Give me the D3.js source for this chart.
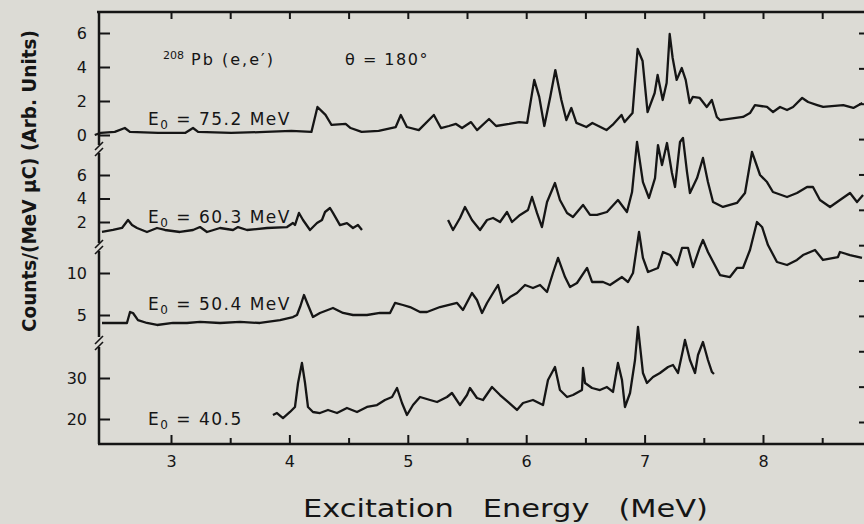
<!DOCTYPE html>
<html>
<head>
  <meta charset="UTF-8" />
  <title>208Pb (e,e') spectra</title>
  <script src="https://d3js.org/d3.v7.min.js"></script>
  <style>
    body { margin: 0; background: #dcdbd5; }
    svg { display: block; }
    text, tspan { font-family: "DejaVu Sans", "Liberation Sans", sans-serif; fill: #151515; }
  </style>
</head>
<body>
  <div id="chart"></div>

  <script>
    // spectra: [excitation energy (MeV), counts]
    const spec752 = [
      [2.356,0],[2.407,0.12],[2.525,0.18],[2.61,0.41],[2.653,0.18],[2.89,0.12],[3.119,0.12],[3.186,0.41],
      [3.229,0.18],[3.508,0.12],[3.797,0.18],[4.017,0.24],[4.186,0.18],[4.237,1.65],[4.305,1.18],[4.356,0.59],
      [4.475,0.65],[4.517,0.41],[4.61,0.18],[4.754,0.24],[4.898,0.47],[4.941,1.18],[4.992,0.47],[5.093,0.29],
      [5.22,1.18],[5.28,0.41],[5.347,0.53],[5.407,0.65],[5.458,0.41],[5.534,0.76],[5.585,0.29],[5.686,0.94],
      [5.746,0.53],[5.856,0.65],[5.941,0.76],[6.008,0.71],[6.068,3.24],[6.11,2.24],[6.153,0.53],[6.203,2.24],
      [6.246,3.82],[6.297,2.06],[6.339,0.88],[6.381,1.59],[6.424,0.71],[6.508,0.47],[6.559,0.71],[6.678,0.29],
      [6.729,0.59],[6.805,1.18],[6.831,0.76],[6.898,1.29],[6.941,5.06],[6.983,4.35],[7.025,1.35],[7.085,2.47],
      [7.11,3.53],[7.153,2.06],[7.186,3.06],[7.212,5.94],[7.237,4.53],[7.271,3.24],[7.314,3.94],[7.347,3.24],
      [7.381,1.88],[7.407,2.24],[7.466,2.18],[7.525,1.65],[7.568,2.06],[7.61,1.06],[7.636,0.88],[7.831,1.06],
      [7.89,1.29],[7.932,1.76],[8.034,1.65],[8.085,1.35],[8.144,1.65],[8.203,1.47],[8.254,1.65],[8.331,2.18],
      [8.381,1.94],[8.458,1.76],[8.508,1.65],[8.678,1.76],[8.763,1.59],[8.839,1.88]
    ];

    const spec603a = [
      [2.417,1.15],[2.51,1.32],[2.586,1.49],[2.637,2.17],[2.671,1.74],[2.713,1.49],[2.797,1.15],[2.882,1.49],
      [2.949,1.32],[3.076,1.15],[3.186,1.32],[3.245,1.57],[3.304,1.15],[3.414,1.49],[3.524,1.32],[3.566,1.57],
      [3.642,1.32],[3.811,1.49],[3.98,1.57],[4.03,1.91],[4.047,1.74],[4.081,2.77],[4.115,2.17],[4.174,1.32],
      [4.233,1.91],[4.275,2.17],[4.301,2.85],[4.343,3.19],[4.368,2.77],[4.427,1.74],[4.486,1.91],[4.537,1.49],
      [4.579,1.74],[4.613,1.32]
    ];
    const spec603b = [
      [5.34,2.17],[5.382,1.32],[5.441,2.34],[5.483,3.28],[5.542,2.17],[5.61,1.32],[5.669,2.17],[5.72,2.34],
      [5.779,2.0],[5.838,2.85],[5.88,2.0],[5.948,2.6],[6.015,3.02],[6.049,4.13],[6.091,2.77],[6.133,1.57],
      [6.176,3.7],[6.243,5.32],[6.285,3.87],[6.345,2.77],[6.395,2.43],[6.48,3.45],[6.539,2.6],[6.598,2.6],
      [6.682,2.85],[6.775,3.87],[6.851,2.85],[6.894,4.55],[6.936,8.81],[6.986,5.4],[7.037,4.04],[7.088,5.74],
      [7.113,8.55],[7.147,6.85],[7.189,8.72],[7.231,6.17],[7.257,4.98],[7.299,8.81],[7.324,9.15],[7.358,6.26],
      [7.383,4.47],[7.443,5.74],[7.493,7.45],[7.535,5.4],[7.578,3.7],[7.662,3.28],[7.78,3.62],[7.848,4.47],
      [7.907,7.96],[7.975,6.0],[8.034,5.4],[8.084,4.55],[8.203,4.13],[8.287,4.47],[8.372,4.98],[8.422,4.98],
      [8.481,3.87],[8.566,3.28],[8.65,3.87],[8.735,4.47],[8.794,3.7],[8.845,4.3]
    ];

    const spec504 = [
      [2.417,4.05],[2.51,4.05],[2.628,4.05],[2.654,5.36],[2.679,5.24],[2.721,4.4],[2.797,4.05],[2.882,3.81],
      [3.017,4.05],[3.135,4.05],[3.245,4.17],[3.414,4.05],[3.583,4.17],[3.752,4.05],[3.921,4.4],[4.03,4.76],
      [4.064,5.0],[4.09,5.95],[4.123,7.38],[4.157,6.19],[4.199,4.76],[4.258,5.24],[4.368,5.83],[4.453,5.24],
      [4.537,5.0],[4.655,5.0],[4.765,5.24],[4.85,5.24],[4.892,6.43],[4.959,6.19],[5.019,5.95],[5.103,5.36],
      [5.162,5.36],[5.272,5.95],[5.416,6.43],[5.466,5.6],[5.542,7.62],[5.584,6.79],[5.627,5.24],[5.669,6.43],
      [5.72,7.62],[5.762,8.57],[5.804,6.43],[5.863,7.14],[5.922,7.62],[5.99,8.57],[6.057,8.21],[6.117,8.57],
      [6.176,7.74],[6.226,10.0],[6.269,11.79],[6.328,9.52],[6.37,8.33],[6.429,8.81],[6.514,10.6],[6.556,8.93],
      [6.649,8.93],[6.708,8.57],[6.809,9.52],[6.86,8.93],[6.902,10.0],[6.953,14.88],[6.986,11.79],[7.029,10.12],
      [7.113,10.6],[7.155,12.5],[7.215,12.14],[7.274,10.95],[7.316,12.98],[7.367,12.98],[7.409,10.71],[7.468,13.1],
      [7.493,13.93],[7.535,12.5],[7.637,9.76],[7.721,9.52],[7.78,10.6],[7.831,10.6],[7.89,12.74],[7.949,16.07],
      [7.992,15.48],[8.042,13.33],[8.118,11.31],[8.203,10.95],[8.287,11.55],[8.338,12.14],[8.439,12.74],[8.507,11.55],
      [8.633,11.9],[8.65,12.5],[8.735,12.14],[8.836,11.79]
    ];

    const spec405 = [
      [3.861,20.98],[3.895,21.46],[3.946,20.24],[4.005,21.71],[4.047,22.93],[4.073,28.78],[4.106,33.66],[4.132,28.78],
      [4.157,22.93],[4.199,21.71],[4.258,21.46],[4.326,22.2],[4.402,21.46],[4.486,22.68],[4.571,21.71],[4.655,22.93],
      [4.74,23.41],[4.807,24.63],[4.867,25.37],[4.909,27.56],[4.951,23.9],[4.993,20.98],[5.044,23.41],[5.103,25.37],
      [5.188,24.63],[5.247,24.15],[5.331,25.37],[5.373,26.34],[5.441,23.41],[5.5,25.85],[5.525,27.56],[5.584,25.12],
      [5.635,24.63],[5.711,27.8],[5.779,25.85],[5.846,24.15],[5.922,22.2],[5.973,23.9],[6.057,24.63],[6.142,23.41],
      [6.184,29.51],[6.243,32.68],[6.285,27.07],[6.345,25.37],[6.395,25.85],[6.471,27.07],[6.48,32.44],[6.497,28.78],
      [6.556,27.56],[6.623,27.07],[6.682,27.8],[6.733,26.59],[6.775,33.66],[6.809,29.51],[6.834,22.93],[6.877,26.34],
      [6.919,34.39],[6.944,42.44],[6.986,31.22],[7.02,28.78],[7.071,30.24],[7.13,31.22],[7.198,32.68],[7.24,33.17],
      [7.282,31.22],[7.324,36.83],[7.341,39.27],[7.383,34.39],[7.426,31.22],[7.451,35.61],[7.493,38.78],[7.535,34.39],
      [7.569,31.46],[7.586,30.98]
    ];

    const panelLabels = ["75.2 MeV", "60.3 MeV", "50.4 MeV", "40.5"];
    const panelTicks = [[0, 2, 4, 6], [2, 4, 6], [5, 10], [20, 30]];
    const panelDomains = [[0, 6], [2, 6], [5, 10], [20, 30]];
    const xMajor = [3, 4, 5, 6, 7, 8];
    const xMinor = [3.5, 4.5, 5.5, 6.5, 7.5, 8.5];

    const width = 864, height = 524;
    const axisLeftX = 99, axisTopY = 12, axisBottomY = 444, axisRightX = 866;
    const ink = "#151515";

    const svg = d3.select("#chart")
      .append("svg")
      .attr("width", width)
      .attr("height", height);

    var x = d3.scaleLinear().domain([3, 8]).range([171, 763]);

    // pixel layout of the four stacked panels: tick range, axis segment, label baseline
    const panels = [
      { range: [135, 33], seg: [axisTopY, 145], labelY: 125 },
      { range: [222, 175], seg: [153, 243], labelY: 223 },
      { range: [315, 273], seg: [251, 337], labelY: 310 },
      { range: [419, 378], seg: [347, axisBottomY], labelY: 425 }
    ];
    const series = [[spec752], [spec603a, spec603b], [spec504], [spec405]];

    // frame: top and bottom axis lines
    svg.append("line").attr("x1", axisLeftX - 2).attr("x2", width).attr("y1", axisTopY).attr("y2", axisTopY)
      .attr("stroke", ink).attr("stroke-width", 2.5);
    svg.append("line").attr("x1", axisLeftX - 1).attr("x2", width).attr("y1", axisBottomY).attr("y2", axisBottomY)
      .attr("stroke", ink).attr("stroke-width", 2.5);

    // bottom axis
    svg.append("g").attr("transform", "translate(0," + axisBottomY + ")")
      .call(d3.axisBottom(x).tickValues(xMajor).tickSize(-9).tickPadding(12).tickFormat(d3.format("d")));
    svg.append("g").attr("transform", "translate(0," + axisBottomY + ")")
      .call(d3.axisBottom(x).tickValues(xMinor).tickSize(-6).tickFormat(""));
    // top axis
    svg.append("g").attr("transform", "translate(0," + axisTopY + ")")
      .call(d3.axisTop(x).tickValues(xMajor.concat(xMinor)).tickSize(-7).tickFormat(""));

    // right edge ticks (axis itself falls just outside the page)
    var yRight = d3.scaleLinear().domain([0, 11]).range([422, 33]);
    svg.append("g").attr("transform", "translate(" + axisRightX + ",0)")
      .call(d3.axisRight(yRight).ticks(12).tickSize(-7).tickFormat(""));

    svg.selectAll(".domain").remove();
    svg.selectAll(".tick line").attr("stroke", ink).attr("stroke-width", 2);
    svg.selectAll(".tick text").style("font-size", "16px").attr("fill", ink);

    var line = d3.line()
      .x(d => x(d[0]))
      .y(d => d[1]);

    panels.forEach((p, i) => {
      var y = d3.scaleLinear().domain(panelDomains[i]).range(p.range);

      // left axis segment
      svg.append("line").attr("x1", axisLeftX).attr("x2", axisLeftX)
        .attr("y1", p.seg[0]).attr("y2", p.seg[1])
        .attr("stroke", ink).attr("stroke-width", 2.5);

      var gy = svg.append("g").attr("transform", "translate(" + axisLeftX + ",0)")
        .call(d3.axisLeft(y).tickValues(panelTicks[i]).tickSize(-11).tickPadding(12).tickFormat(d3.format("d")));
      gy.select(".domain").remove();
      gy.selectAll(".tick line").attr("stroke", ink).attr("stroke-width", 2);
      gy.selectAll(".tick text").style("font-size", "16px").attr("fill", ink);

      // break marks between panels
      if (i > 0) {
        var yb = p.seg[0] - 4;
        [-3, 3].forEach(off => {
          svg.append("line")
            .attr("x1", axisLeftX - 4).attr("x2", axisLeftX + 4)
            .attr("y1", yb + off + 4).attr("y2", yb + off - 4)
            .attr("stroke", ink).attr("stroke-width", 1.6);
        });
      }

      series[i].forEach(s => {
        svg.append("path")
          .datum(s.map(d => [d[0], y(d[1])]))
          .attr("fill", "none")
          .attr("stroke", ink)
          .attr("stroke-width", 2.3)
          .attr("stroke-linejoin", "round")
          .attr("d", line);
      });

      // E0 label
      var lab = svg.append("text")
        .attr("x", 148)
        .attr("y", p.labelY)
        .style("font-size", "17px")
        .style("letter-spacing", "1.5px");
      lab.append("tspan").text("E");
      lab.append("tspan").attr("dy", 4).style("font-size", "12px").text("0");
      lab.append("tspan").attr("dy", -4).text(" = " + panelLabels[i]);
    });

    // reaction and angle
    var r = svg.append("text").attr("x", 163).attr("y", 65)
      .style("font-size", "16px").style("letter-spacing", "2px");
    r.append("tspan").attr("dy", -6).style("font-size", "11px").style("letter-spacing", "0px").text("208");
    r.append("tspan").attr("dy", 6).text(" Pb (e,e\u2032)");
    svg.append("text").attr("x", 345).attr("y", 65)
      .style("font-size", "16px").style("letter-spacing", "1.5px")
      .text("\u03b8 = 180\u00b0");

    // axis titles
    svg.append("text")
      .attr("x", 303).attr("y", 517)
      .style("font-size", "25px")
      .attr("textLength", 405)
      .attr("lengthAdjust", "spacingAndGlyphs")
      .attr("xml:space", "preserve")
      .text("Excitation   Energy   (MeV)");

    svg.append("text")
      .attr("transform", "translate(36,332) rotate(-90)")
      .style("font-size", "20px")
      .style("font-weight", "bold")
      .attr("textLength", 302)
      .attr("lengthAdjust", "spacingAndGlyphs")
      .text("Counts/(MeV \u03bcC) (Arb. Units)");
  </script>
</body>
</html>
